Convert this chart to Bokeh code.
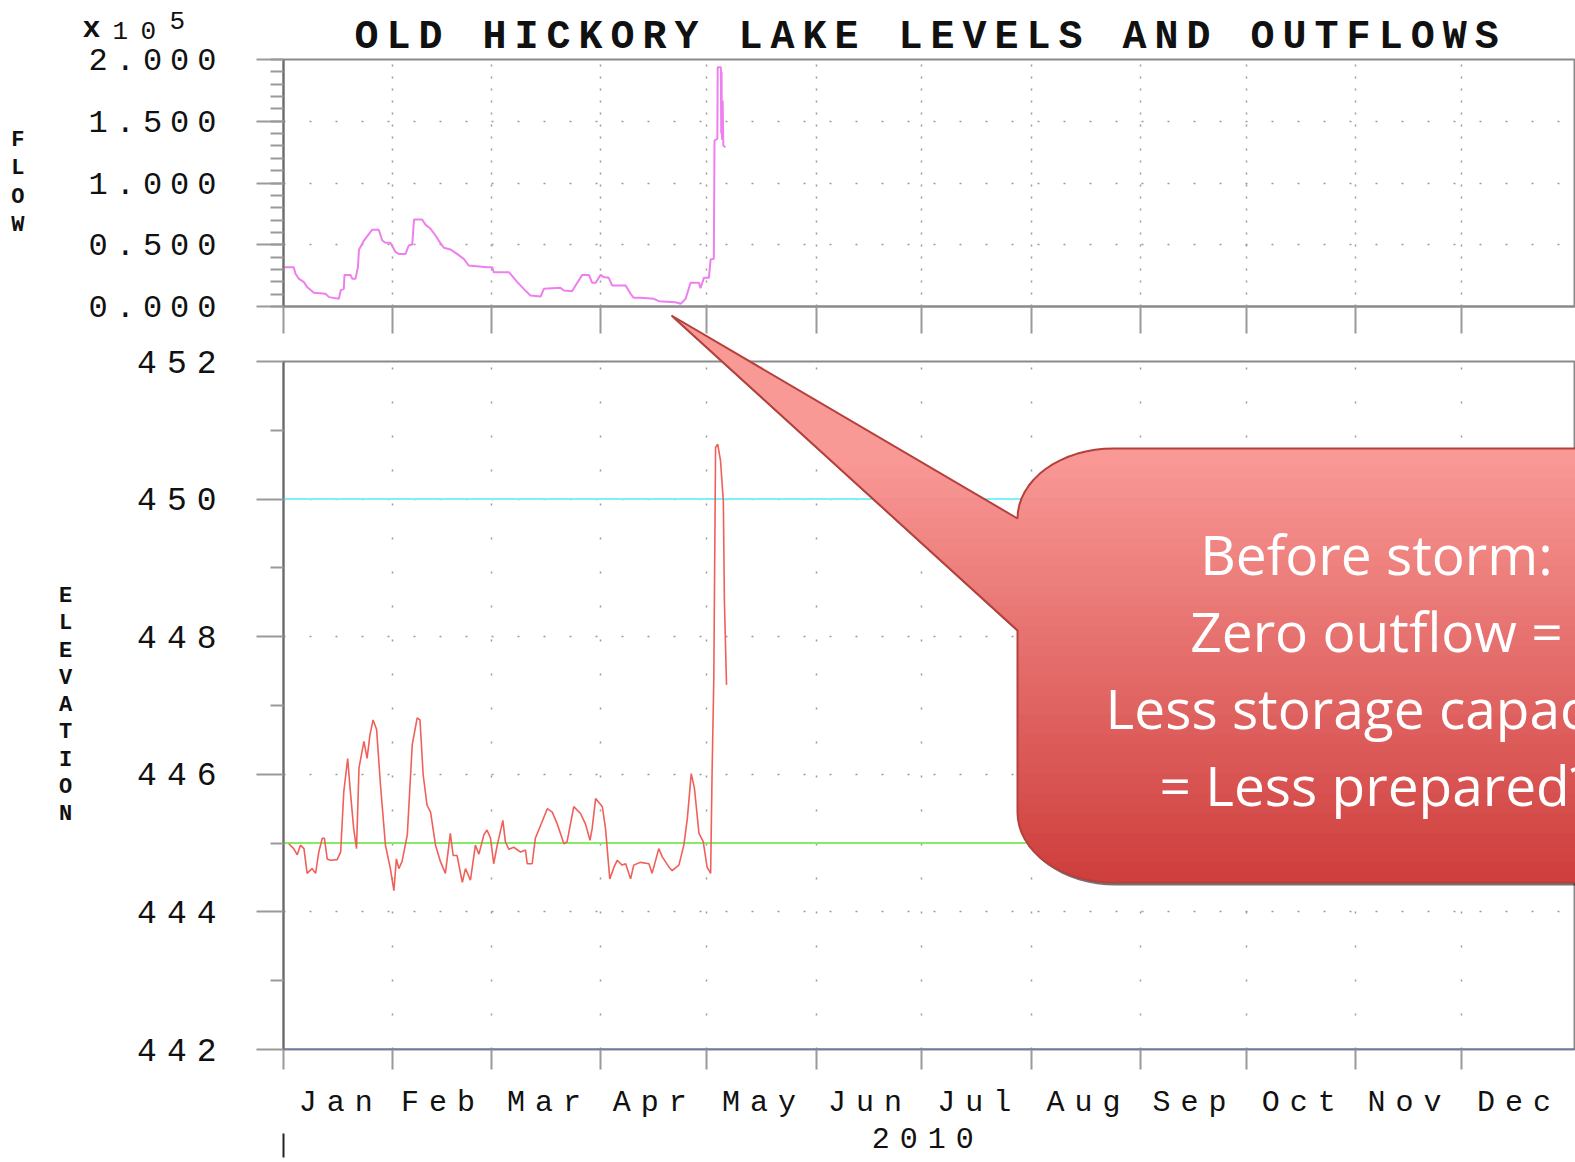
from bokeh.plotting import figure
from bokeh.models import (Range1d, FixedTicker, LinearAxis, Span, Grid,
                          CustomJSTickFormatter, InlineStyleSheet)
from bokeh.embed import file_html
from bokeh.resources import INLINE
from bokeh.core.properties import value
import math

# ---------------- data ----------------
TITLE = "OLD HICKORY LAKE LEVELS AND OUTFLOWS"
YEAR_LABEL = "2010"
MONTHS = ["Jan", "Feb", "Mar", "Apr", "May", "Jun", "Jul", "Aug", "Sep", "Oct", "Nov", "Dec"]
MONTH_STARTS = [0, 31, 59, 90, 120, 151, 181, 212, 243, 273, 304, 334]
YEAR_DAYS = 365

FLOW_TICKS = [0, 50000, 100000, 150000, 200000]
FLOW_MINOR_TICKS = [i * 10000 for i in range(21)]
FLOW_SCALE_PARTS = ["x", "1", "0", "5"]   # "x10^5" multiplier shown above the flow axis
ELEV_TICKS = [442, 444, 446, 448, 450, 452]
ELEV_MINOR_TICKS = [443, 445, 447, 449, 451]

# outflow (cfs) by day of year
FLOW_DAY = [0, 2.9, 3.4, 4.4, 5.8, 6.7, 8.6, 11.9, 12.9, 15.7, 16.2, 17.1, 17.3, 19.0, 19.5,
            20.4, 21.1, 21.4, 22.8, 25.1, 27.0, 28.0, 28.9, 30.3, 31.8, 32.7, 34.6, 35.5,
            36.5, 37.0, 39.3, 40.3, 41.7, 43.1, 44.0, 45.5, 47.3, 49.2, 51.1, 52.5, 57.7,
            59.2, 59.6, 63.9, 66.3, 68.1, 70.0, 72.9, 73.8, 78.5, 79.5, 81.8, 82.8, 84.7,
            86.6, 87.5, 88.5, 89.9, 90.8, 92.2, 93.2, 97.0, 98.4, 99.3, 101.2, 105.0, 106.4,
            111.1, 112.6, 114.0, 115.4, 117.8, 118.2, 119.2, 120.6, 121.1, 122.0, 122.2,
            123.0, 123.1, 124.0, 124.1, 124.2, 124.3, 124.5, 124.7, 125.3]
FLOW_CFS = [31800, 31800, 26500, 22400, 19700, 15700, 11100, 10300, 7600, 6200, 13000, 14300,
            25600, 25600, 22400, 22400, 31800, 45900, 53400, 62100, 62100, 53400, 51600, 51600,
            44000, 42600, 42600, 49400, 50200, 70400, 70400, 66100, 62900, 57500, 53400, 47500,
            46200, 42600, 38600, 33200, 31800, 31800, 27800, 27800, 19700, 14300, 8900, 8100,
            14300, 15100, 13000, 12400, 17000, 25600, 25600, 19200, 19200, 25600, 23800, 23200,
            17000, 17000, 10300, 7000, 7000, 6200, 4300, 3500, 2200, 6200, 19200, 19200, 14800,
            23200, 23200, 38100, 38600, 134400, 135800, 193800, 193800, 140000, 190000, 135000,
            166800, 130400, 129000]

# pool elevation (ft) by day of year
ELEV_DAY = [1.5, 2.9, 3.9, 4.8, 5.8, 6.7, 8.1, 9.1, 10.0, 11.0, 11.6, 12.4, 13.3, 15.2, 16.2,
            17.1, 18.2, 18.8, 19.9, 20.7, 21.4, 22.8, 23.7, 24.5, 25.4, 26.4, 27.5, 28.9, 30.3,
            31.3, 32.0, 32.7, 33.6, 35.1, 36.5, 37.9, 38.7, 39.6, 40.7, 41.7, 43.1, 44.5, 45.9,
            47.3, 48.1, 49.2, 50.7, 51.6, 53.0, 54.4, 55.4, 56.8, 57.7, 58.7, 59.6, 60.6, 62.2,
            62.9, 63.9, 65.3, 67.2, 68.6, 69.1, 70.5, 71.4, 72.9, 74.8, 76.2, 77.6, 79.5, 80.4,
            82.3, 84.2, 85.6, 86.9, 87.5, 88.5, 90.4, 91.3, 92.5, 93.7, 94.6, 96.0, 97.0, 98.4,
            99.3, 101.2, 103.6, 104.5, 106.4, 107.4, 109.3, 110.2, 112.1, 113.5, 114.5, 115.6,
            116.5, 117.8, 119.0, 120.1, 121.1, 121.5, 122.0, 122.5, 123.1, 123.9, 124.7, 125.0,
            125.6]
ELEV_FT = [444.99, 444.92, 444.83, 444.97, 444.92, 444.56, 444.63, 444.56, 444.87, 445.07,
           445.07, 444.77, 444.75, 444.76, 444.87, 445.75, 446.23, 445.84, 445.21, 444.92,
           446.09, 446.48, 446.23, 446.57, 446.79, 446.65, 445.84, 444.97, 444.63, 444.31,
           444.77, 444.63, 444.73, 445.12, 446.43, 446.82, 446.79, 445.99, 445.55, 445.45,
           444.97, 444.73, 444.56, 445.14, 444.82, 444.82, 444.43, 444.63, 444.46, 444.97,
           444.84, 445.12, 445.19, 445.07, 444.70, 444.97, 445.33, 445.02, 444.91, 444.94,
           444.87, 444.90, 444.70, 444.70, 445.07, 445.26, 445.50, 445.45, 445.28, 444.99,
           445.02, 445.53, 445.43, 445.28, 445.04, 445.21, 445.65, 445.53, 445.21, 444.48,
           444.65, 444.75, 444.68, 444.70, 444.48, 444.68, 444.72, 444.70, 444.56, 444.92,
           444.80, 444.65, 444.60, 444.68, 444.97, 445.36, 446.01, 445.80, 445.14, 445.02,
           444.65, 444.56, 445.99, 447.40, 450.75, 450.80, 450.56, 449.97, 448.52, 447.30]

GUIDE_LEVELS = [450, 445, 442]
GUIDE_COLORS = ["#7ff0f6", "#86ec66", "#5a68a8"]

CALLOUT_LINES = ["Before storm:", "Zero outflow =", "Less storage capacity", "= Less prepared?"]

# ---------------- styling ----------------
MONO = "Liberation Mono"
TICK_COLOR = "#9a9a9a"
FRAME_COLOR = "#8a8a8a"
AXIS_COLOR = "#6a6a6a"
GRID_COLOR = "#9a9a9a"
PAGE_W, PAGE_H = 1575, 1162
LS_BOTTOM = 10                     # letter spacing (px) of the lower panel's texts
PX_PER_DAY = (PAGE_W - 283) / 366.3

# label anchors: centred in each month / the year, nudged left to balance the letter spacing
MONTH_ENDS = MONTH_STARTS[1:] + [YEAR_DAYS]
MONTH_LABEL_AT = [int((a + b) / 2 - (LS_BOTTOM + 1) / PX_PER_DAY)
                  for a, b in zip(MONTH_STARTS, MONTH_ENDS)]
YEAR_LABEL_AT = int(YEAR_DAYS / 2 - (1.5 * LS_BOTTOM + 1) / PX_PER_DAY)
BLANK = CustomJSTickFormatter(code="return '';")

x_range = Range1d(0, 366.3)


def style_left_axis(ax):
    ax.major_tick_out = 27
    ax.major_tick_in = 0
    ax.minor_tick_out = 13
    ax.minor_tick_in = 0
    ax.major_tick_line_color = TICK_COLOR
    ax.major_tick_line_width = 2
    ax.minor_tick_line_color = TICK_COLOR
    ax.minor_tick_line_width = 2
    ax.axis_line_color = AXIS_COLOR
    ax.axis_line_width = 2
    ax.major_label_text_font = MONO
    ax.major_label_text_color = "#111111"
    ax.axis_label_text_font = MONO
    ax.axis_label_text_font_style = "bold"
    ax.axis_label_text_font_size = "22px"
    ax.axis_label_text_color = "#111111"
    ax.axis_label_orientation = "horizontal"


# ---------------- top panel: flow ----------------
pa = figure(width=PAGE_W, height=340, x_range=x_range, y_range=Range1d(0, 200000),
            output_backend="svg", toolbar_location=None,
            x_axis_location=None, y_axis_location=None,
            min_border_left=283, min_border_right=0, min_border_top=59, min_border_bottom=34,
            title=TITLE,
            stylesheets=[InlineStyleSheet(css=":host { letter-spacing: 8px; }")])
pa.grid.visible = False
pa.title.align = "left"
pa.title.offset = 71
pa.title.text_font = MONO
pa.title.text_font_size = "40px"
pa.title.text_font_style = "bold"
pa.title.text_color = "#111111"
pa.title.standoff = 0
pa.outline_line_color = FRAME_COLOR
pa.outline_line_width = 2

ya = LinearAxis(ticker=FixedTicker(ticks=FLOW_TICKS, minor_ticks=FLOW_MINOR_TICKS),
                formatter=CustomJSTickFormatter(code="return (tick / 1e5).toFixed(3);"),
                axis_label="\n".join("FLOW"))
style_left_axis(ya)
ya.major_label_text_font_size = "32px"
ya.major_label_standoff = 72
ya.axis_label_standoff = 61
ya.axis_label_text_line_height = 1.13
pa.add_layout(ya, "left")

xa = LinearAxis(ticker=FixedTicker(ticks=MONTH_STARTS), major_tick_out=27, major_tick_in=0,
                formatter=BLANK, major_label_text_font_size="1px",
                axis_line_color=FRAME_COLOR, axis_line_width=2,
                major_tick_line_color=TICK_COLOR, major_tick_line_width=2,
                minor_tick_line_color=None)
pa.add_layout(xa, "below")

pa.add_layout(Grid(dimension=0, ticker=FixedTicker(ticks=MONTH_STARTS), grid_line_color=GRID_COLOR,
                   grid_line_dash="2 10", grid_line_width=1.5))
pa.add_layout(Grid(dimension=1, ticker=FixedTicker(ticks=FLOW_TICKS), grid_line_color=GRID_COLOR,
                   grid_line_dash="2 24", grid_line_width=1.5))

pa.line(FLOW_DAY, FLOW_CFS, line_color="#ee7fee", line_width=2)

# ---------------- bottom panel: elevation ----------------
pb = figure(width=PAGE_W, height=PAGE_H - 340, x_range=x_range, y_range=Range1d(442, 452),
            output_backend="svg", toolbar_location=None,
            x_axis_location=None, y_axis_location=None,
            min_border_left=283, min_border_right=0, min_border_top=21, min_border_bottom=113,
            stylesheets=[InlineStyleSheet(css=":host { letter-spacing: %dpx; }" % LS_BOTTOM)])
pb.grid.visible = False
pb.outline_line_color = FRAME_COLOR
pb.outline_line_width = 2

yb = LinearAxis(ticker=FixedTicker(ticks=ELEV_TICKS, minor_ticks=ELEV_MINOR_TICKS),
                axis_label="\n".join("ELEVATION"))
style_left_axis(yb)
yb.major_label_text_font_size = "33px"
yb.major_label_standoff = 60
yb.axis_label_standoff = 62
yb.axis_label_text_line_height = 1.09
pb.add_layout(yb, "left")

xb = LinearAxis(ticker=FixedTicker(ticks=MONTH_LABEL_AT, minor_ticks=MONTH_STARTS),
                major_label_overrides={m: n for m, n in zip(MONTH_LABEL_AT, MONTHS)},
                major_tick_line_color=None, major_tick_out=20, major_tick_in=0,
                minor_tick_out=20, minor_tick_in=0, minor_tick_line_color=TICK_COLOR,
                minor_tick_line_width=2, axis_line_color=None,
                major_label_text_font=MONO, major_label_text_font_size="30px",
                major_label_text_color="#111111", major_label_standoff=16)
pb.add_layout(xb, "below")

# year row: the "2010" label and the short start-of-year mark
xyear = LinearAxis(ticker=FixedTicker(ticks=[YEAR_LABEL_AT], minor_ticks=[0]),
                   major_label_overrides={YEAR_LABEL_AT: YEAR_LABEL},
                   major_tick_line_color=None, major_tick_out=0, major_tick_in=0,
                   minor_tick_in=-11, minor_tick_out=35,
                   minor_tick_line_color="#222222", minor_tick_line_width=2,
                   major_label_text_font=MONO, major_label_text_font_size="30px",
                   major_label_text_color="#111111", major_label_standoff=-30,
                   axis_line_color=None)
pb.add_layout(xyear, "below")

pb.add_layout(Grid(dimension=0, ticker=FixedTicker(ticks=MONTH_STARTS), grid_line_color=GRID_COLOR,
                   grid_line_dash="2 32", grid_line_width=1.5))
pb.add_layout(Grid(dimension=1, ticker=FixedTicker(ticks=ELEV_TICKS), grid_line_color=GRID_COLOR,
                   grid_line_dash="2 24", grid_line_width=1.5))

for lvl, col in zip(GUIDE_LEVELS, GUIDE_COLORS):
    pb.add_layout(Span(location=lvl, dimension="width", line_color=col, line_width=2,
                       level="underlay"))

pb.line(ELEV_DAY, ELEV_FT, line_color="#f0605a", line_width=1.6)

# ---------------- overlay (page pixel space): callout + axis multiplier ----------------
OV_H = 900
TIP = (671, 315)
BOX_L, BOX_T, BOX_B, BOX_R = 1017, 448, 882, 1640
RX, RY = 96, 70
JOINT_LOW = 630
N_ARC = 16


def arc(cx, cy, t0, t1):
    return [(cx + RX * math.cos(t0 + (t1 - t0) * k / N_ARC),
             cy + RY * math.sin(t0 + (t1 - t0) * k / N_ARC)) for k in range(N_ARC + 1)]


shape = [TIP]
shape += arc(BOX_L + RX, BOX_T + RY, math.pi, 1.5 * math.pi)
shape += [(BOX_R, BOX_T), (BOX_R, BOX_B)]
shape += arc(BOX_L + RX, BOX_B - RY, 0.5 * math.pi, math.pi)
shape += [(BOX_L, JOINT_LOW)]


def clip(pts, keep, lim):
    out = []
    n = len(pts)
    for i in range(n):
        P, Q = pts[i], pts[(i + 1) % n]
        pin, qin = keep(P[1]), keep(Q[1])
        if pin:
            out.append(P)
        if pin != qin:
            t = (lim - P[1]) / (Q[1] - P[1])
            out.append((P[0] + t * (Q[0] - P[0]), lim))
    return out


TOP_RGB = (250, 154, 151)
BOT_RGB = (205, 62, 60)
NB = 44
band_xs, band_ys, band_cols = [], [], []
h = (BOX_B - BOX_T) / NB
for i in range(NB):
    a = BOX_T + i * h if i > 0 else 300
    b = BOX_T + (i + 1) * h + 1 if i < NB - 1 else OV_H
    poly = clip(clip(shape, lambda y, a=a: y >= a, a), lambda y, b=b: y <= b, b)
    if len(poly) < 3:
        continue
    f = (i + 0.5) / NB
    rgb = tuple(int(round(TOP_RGB[k] + (BOT_RGB[k] - TOP_RGB[k]) * f)) for k in range(3))
    band_xs.append([p[0] for p in poly])
    band_ys.append([p[1] for p in poly])
    band_cols.append("#%02x%02x%02x" % rgb)

pc = figure(width=PAGE_W, height=OV_H, x_range=Range1d(0, PAGE_W), y_range=Range1d(OV_H, 0),
            output_backend="svg", toolbar_location=None,
            x_axis_location=None, y_axis_location=None, min_border=0,
            background_fill_color=None, border_fill_color=None, outline_line_color=None,
            margin=(-PAGE_H, 0, 0, 0))
pc.grid.visible = False

pc.patch([p[0] + 2 for p in shape], [p[1] + 3 for p in shape], fill_color="black",
         fill_alpha=0.55, line_color=None)
pc.patches(band_xs, band_ys, fill_color=band_cols, line_color=None)
pc.patch([p[0] for p in shape], [p[1] for p in shape], fill_color=None,
         line_color="#b5403c", line_width=2)

CALLOUT_CX = 1376
CALLOUT_Y0 = 553
CALLOUT_STEP = 77
pc.text(x=[CALLOUT_CX] * len(CALLOUT_LINES),
        y=[CALLOUT_Y0 + CALLOUT_STEP * i for i in range(len(CALLOUT_LINES))],
        text=CALLOUT_LINES, text_font=value("Open Sans"), text_font_size="55px",
        text_color="white", text_align="center", text_baseline="alphabetic")

# "x10^5" multiplier, character by character (letter-spaced mono as in the original)
pc.text(x=[82, 112, 140, 169], y=[28, 30, 30, 20], text=FLOW_SCALE_PARTS,
        text_font=value(MONO), text_font_size=["30px", "26px", "26px", "26px"],
        text_font_style=["bold", "normal", "normal", "normal"], text_color="#111111",
        text_align="left", text_baseline="alphabetic")

open("out.html", "w").write(file_html([pa, pb, pc], INLINE))
